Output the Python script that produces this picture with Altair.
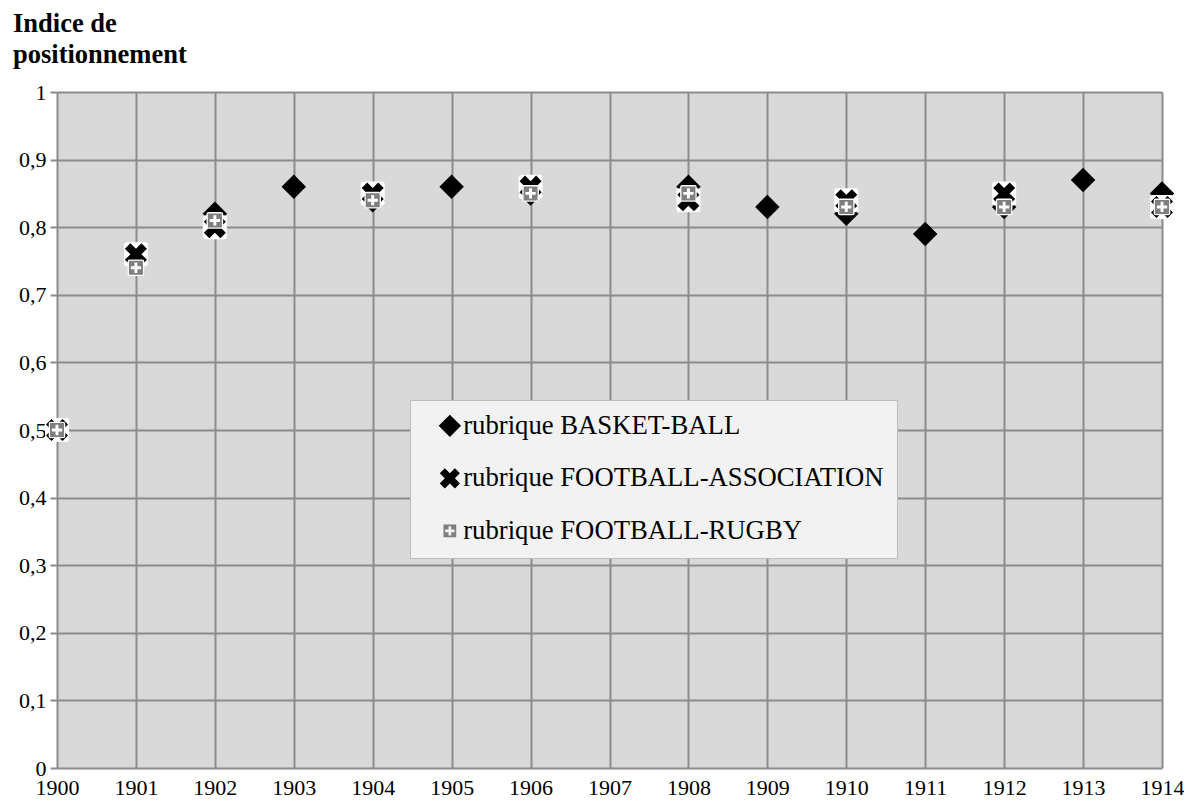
import altair as alt
import pandas as pd

years = [1900, 1901, 1902, 1903, 1904, 1905, 1906, 1907, 1908, 1909, 1910, 1911, 1912, 1913, 1914]
basket = [0.50, 0.75, 0.82, 0.86, 0.84, 0.86, 0.85, None, 0.86, 0.83, 0.82, 0.79, 0.83, 0.87, 0.85]
assoc = [0.50, 0.76, 0.80, None, 0.85, None, 0.86, None, 0.84, None, 0.84, None, 0.85, None, 0.83]
rugby = [0.50, 0.74, 0.81, None, 0.84, None, 0.85, None, 0.85, None, 0.83, None, 0.83, None, 0.83]

series_names = ["rubrique BASKET-BALL", "rubrique FOOTBALL-ASSOCIATION", "rubrique FOOTBALL-RUGBY"]
series_values = [basket, assoc, rugby]

rows = []
for name, vals in zip(series_names, series_values):
    for yr, v in zip(years, vals):
        if v is not None:
            rows.append({"annee": yr, "indice": v, "serie": name})
df = pd.DataFrame(rows)

SERIF = "Liberation Serif"

# Marker outlines in a -1..1 box (Vega scales them by the size)
X_PATH = ("M-0.9,-0.45 L-0.45,-0.9 L0,-0.45 L0.45,-0.9 L0.9,-0.45 L0.45,0 "
          "L0.9,0.45 L0.45,0.9 L0,0.45 L-0.45,0.9 L-0.9,0.45 L-0.45,0 Z")
RUGBY_PATH = ("M-0.57,-0.57 L0.57,-0.57 L0.57,0.57 L-0.57,0.57 Z "
              "M-0.12,-0.42 L-0.12,-0.12 L-0.42,-0.12 L-0.42,0.12 L-0.12,0.12 L-0.12,0.42 "
              "L0.12,0.42 L0.12,0.12 L0.42,0.12 L0.42,-0.12 L0.12,-0.12 L0.12,-0.42 Z")


def round_sq(h, c):
    return (f"M{-h + c},{-h} L{h - c},{-h} Q{h},{-h} {h},{-h + c} L{h},{h - c} "
            f"Q{h},{h} {h - c},{h} L{-h + c},{h} Q{-h},{h} {-h},{h - c} "
            f"L{-h},{-h + c} Q{-h},{-h} {-h + c},{-h} Z")


shape_scale = alt.Scale(domain=series_names, range=["diamond", X_PATH, RUGBY_PATH])
color_scale = alt.Scale(domain=series_names, range=["#000000", "#000000", "#7f7f7f"])

legend = alt.Legend(
    title=None, orient="none", legendX=353, legendY=308,
    fillColor="#f2f2f2", strokeColor="#bdbdbd",
    padding=12.5, rowPadding=24.5, symbolOffset=14, labelOffset=0,
    labelFont=SERIF, labelFontSize=26.7, labelColor="#000000",
    labelExpr="datum.label + '\u00a0\u00a0\u00a0'",
    labelLimit=700, symbolStrokeWidth=0, symbolSize=500,
)

x_enc = alt.X("annee:Q", scale=alt.Scale(domain=[1900, 1914], nice=False),
              axis=alt.Axis(values=years, format="d", title=None, grid=True,
                            ticks=False, domain=False, labelPadding=9,
                            labelFlush=False, labelFont=SERIF, labelFontSize=22,
                            labelColor="#000000"))
y_enc = alt.Y("indice:Q", scale=alt.Scale(domain=[0, 1], nice=False),
              axis=alt.Axis(values=[i / 10 for i in range(11)], title=None,
                            labelExpr="replace(format(datum.value, '.1~f'), '.', ',')",
                            grid=True, domain=False, ticks=True, tickSize=7,
                            tickWidth=2, tickColor="#8c8c8c", labelPadding=4,
                            labelFont=SERIF, labelFontSize=22, labelColor="#000000"))


def series_layer(name):
    return alt.Chart(df).transform_filter(alt.datum.serie == name).mark_point(
        filled=True, opacity=1, strokeWidth=0, size=600
    ).encode(
        x=x_enc, y=y_enc,
        shape=alt.Shape("serie:N", scale=shape_scale, legend=legend),
        color=alt.Color("serie:N", scale=color_scale, legend=legend),
    )


def backdrop(name, half):
    return alt.Chart(df).transform_filter(alt.datum.serie == name).mark_point(
        filled=True, opacity=1, strokeWidth=0, shape=round_sq(half, half * 0.25),
        color="#ffffff", size=600
    ).encode(x=x_enc, y=y_enc)


chart = alt.layer(
    series_layer(series_names[0]),
    backdrop(series_names[1], 0.98),
    series_layer(series_names[1]),
    backdrop(series_names[2], 0.68),
    series_layer(series_names[2]),
).properties(
    width=1176, height=790,
    autosize=alt.AutoSizeParams(type="fit", contains="padding"),
    padding={"left": 5, "top": 2, "right": 0, "bottom": 0},
    background="#ffffff",
    title=alt.TitleParams(
        text=["Indice de", "positionnement"], anchor="start", frame="group",
        font=SERIF, fontSize=26.5, fontWeight="bold", color="#000000",
        dx=-44, offset=13, lineHeight=31,
    ),
).configure_view(
    fill="#d9d9d9", stroke=None
).configure_axis(
    gridColor="#8c8c8c", gridWidth=2, gridOpacity=1,
    labelFont=SERIF, labelFontSize=22, labelColor="#000000",
)

chart.save("out.html", embed_options={"renderer": "svg", "actions": False})
